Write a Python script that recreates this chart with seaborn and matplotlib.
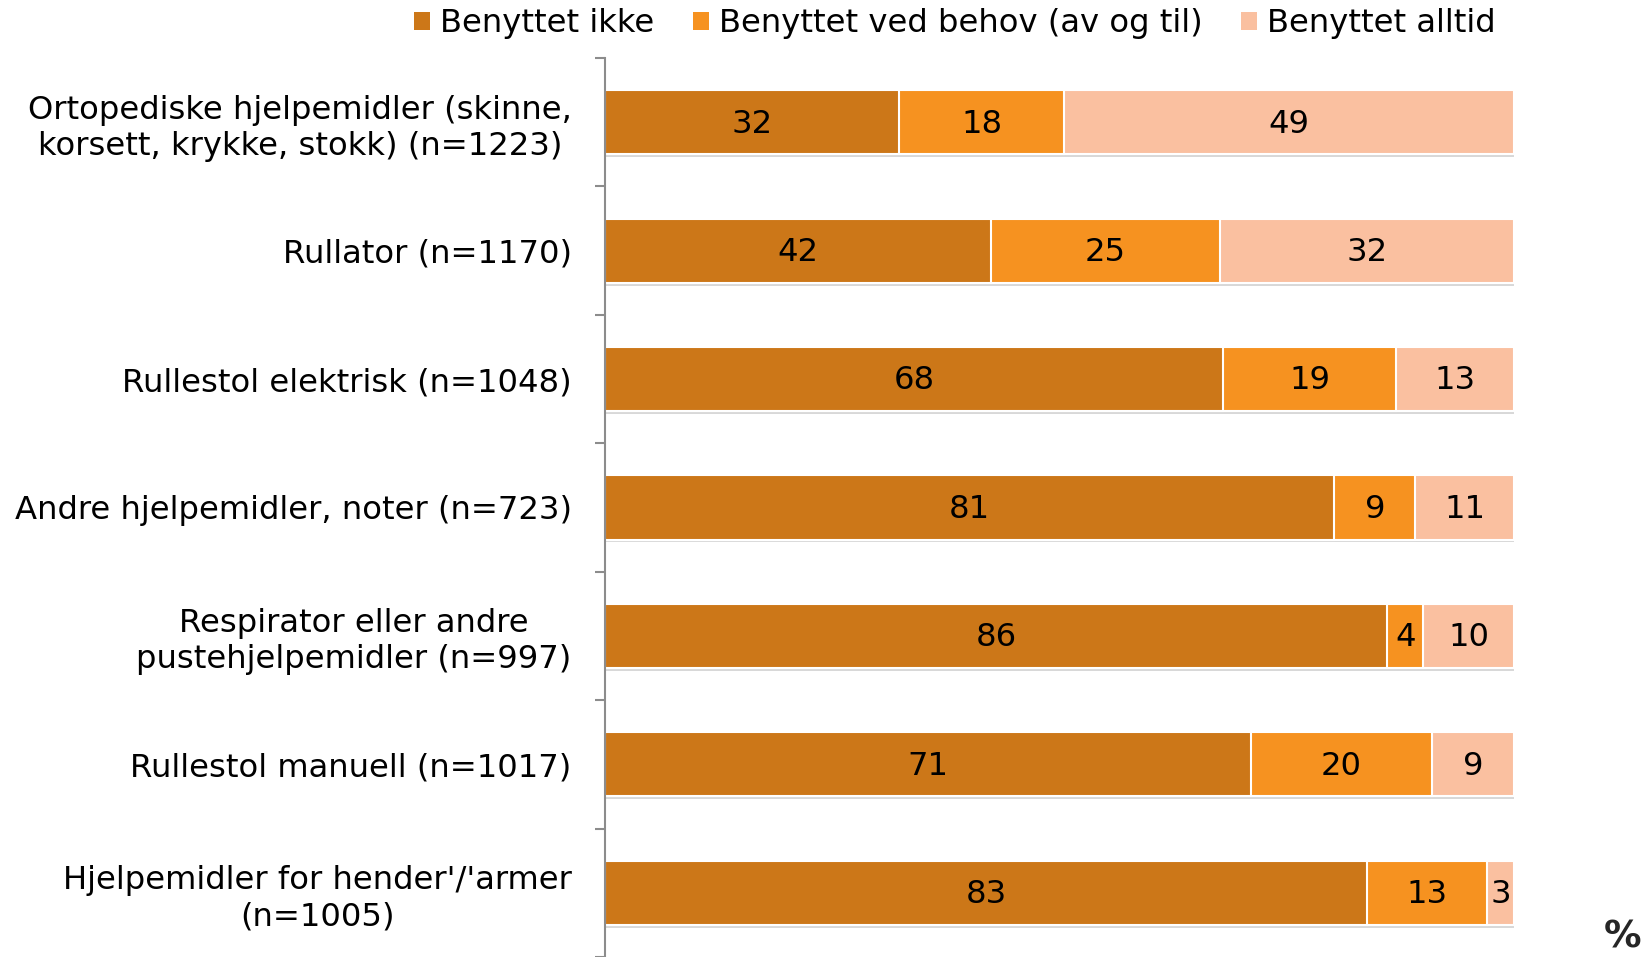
import numpy as np
import pandas as pd
import matplotlib
matplotlib.use("Agg")
import matplotlib.pyplot as plt
import matplotlib.patheffects as pe
from matplotlib.ticker import FixedLocator
import seaborn as sns

categories = [
    "Ortopediske hjelpemidler (skinne,\nkorsett, krykke, stokk) (n=1223)",
    "Rullator (n=1170)",
    "Rullestol elektrisk (n=1048)",
    "Andre hjelpemidler, noter (n=723)",
    "Respirator eller andre\npustehjelpemidler (n=997)",
    "Rullestol manuell (n=1017)",
    "Hjelpemidler for hender'/'armer\n(n=1005)",
]
benyttet_ikke = [32, 42, 68, 81, 86, 71, 83]
benyttet_ved_behov = [18, 25, 19, 9, 4, 20, 13]
benyttet_alltid = [49, 32, 13, 11, 10, 9, 3]
series_names = ["Benyttet ikke", "Benyttet ved behov (av og til)", "Benyttet alltid"]
colors = ["#CC7718", "#F69220", "#FAC0A0"]

sns.set_style("white")
plt.rcParams["font.family"] = ["DejaVu Sans"]
FS = 23.2

raw = np.array([benyttet_ikke, benyttet_ved_behov, benyttet_alltid], dtype=float)
pct = raw / raw.sum(axis=0) * 100.0
cum = np.cumsum(pct, axis=0)

fig = plt.figure(figsize=(16.46, 9.57), dpi=100)
ax = fig.add_axes([0.3676, 0.0, 0.5524, 0.9394])

# draw cumulative layers from longest to shortest so each segment is visible
for k in [2, 1, 0]:
    df = pd.DataFrame({"cat": categories, "val": cum[k]})
    n_before = len(ax.patches)
    sns.barplot(data=df, x="val", y="cat", order=categories, orient="h",
                color=colors[k], saturation=1, width=0.5, ax=ax,
                edgecolor="white", linewidth=1.5, legend=False)
    if k == 2:
        for p in ax.patches[n_before:]:
            p.set_path_effects([pe.SimplePatchShadow(offset=(0.8, -2.0),
                                                     shadow_rgbFace="#909090",
                                                     alpha=0.35),
                                pe.Normal()])

# value labels
for k in range(3):
    for i in range(len(categories)):
        left = cum[k][i] - pct[k][i]
        ax.text(left + pct[k][i] / 2, i + 0.015, f"{int(raw[k][i])}", ha="center",
                va="center", fontsize=FS, color="black")

ax.set_xlim(0, 100)
ax.set_ylim(len(categories) - 0.5, -0.5)
ax.set_xlabel("")
ax.set_ylabel("")
ax.set_xticks([])
for s in ["top", "right", "bottom"]:
    ax.spines[s].set_visible(False)
ax.spines["left"].set_color("#8C8C8C")
ax.spines["left"].set_linewidth(1.5)

ax.yaxis.set_minor_locator(FixedLocator(np.arange(-0.5, len(categories), 1.0)))
ax.tick_params(axis="y", which="major", length=0, pad=24, labelsize=FS,
               labelcolor="black")
ax.tick_params(axis="y", which="minor", length=7, width=1.5, color="#8C8C8C",
               direction="out", left=True)
for t in ax.get_yticklabels():
    t.set_multialignment("center")

# legend
handles = [plt.Rectangle((0, 0), 1, 1, facecolor=c, edgecolor="none") for c in colors]
leg = fig.legend(handles, series_names, loc="center", ncol=3,
                 bbox_to_anchor=(0.58, 0.975), frameon=False, fontsize=FS,
                 handlelength=0.5, handleheight=0.5, handletextpad=0.3,
                 columnspacing=1.2)
for t in leg.get_texts():
    t.set_color("black")

fig.text(0.986, 0.02, "%", fontsize=27, fontweight="bold", ha="center", va="center")

fig.savefig("out.png", dpi=100)
